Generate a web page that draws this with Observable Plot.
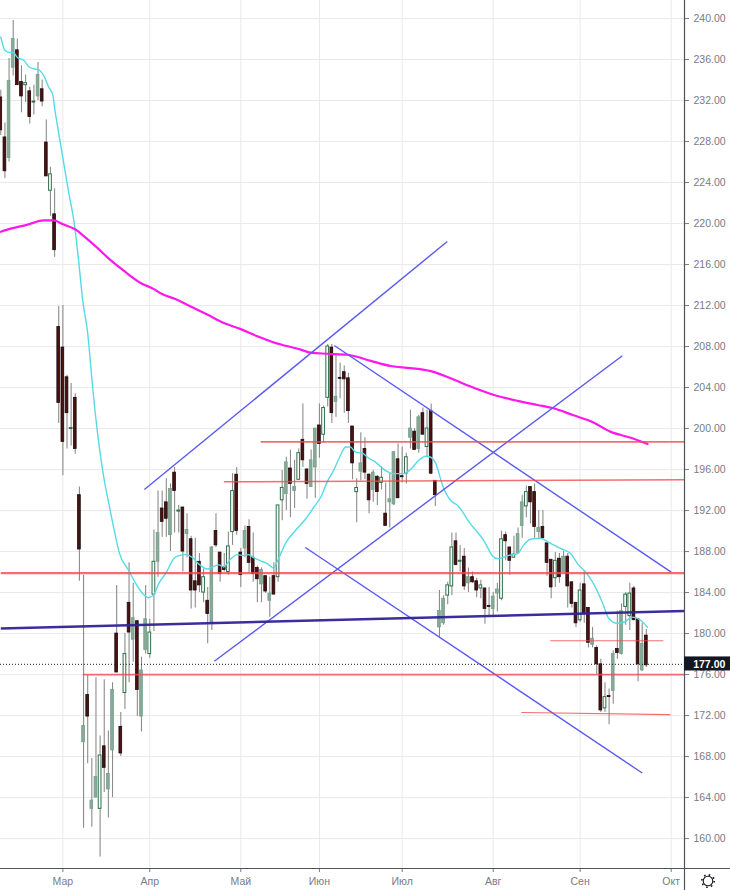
<!DOCTYPE html>
<html><head><meta charset="utf-8">
<style>html,body{margin:0;padding:0;background:#fff}#c{position:relative;width:730px;height:890px;overflow:hidden}svg{display:block}
#g{position:absolute;left:699px;top:872px}</style>
<script src="https://cdn.jsdelivr.net/npm/d3@7"></script>
<script src="https://cdn.jsdelivr.net/npm/@observablehq/plot@0.6"></script>
</head><body><div id="c"></div>
<script>
const open=[232.3,228.4,226.4,235.2,236.9,233.8,233.5,232.9,231.8,232.4,233.1,227.9,223.2,220.9,209.9,207.9,205.0,199.95,203.0,193.5,
169.4,174.0,162.9,164.0,162.9,169.0,164.8,168.6,180.0,170.9,174.2,183.0,179.4,181.2,171.9,178.4,178.0,183.8,187.0,192.2,
192.8,189.6,195.7,191.9,192.3,189.7,189.2,185.1,187.0,184.0,183.2,181.1,190.0,187.9,186.5,186.0,189.9,195.5,187.9,188.3,
190.4,187.4,186.4,184.8,185.6,183.2,185.6,185.5,193.0,193.6,196.1,193.9,195.0,198.9,196.0,194.3,196.2,200.3,199.4,203.0,
207.9,202.6,204.95,205.5,204.9,200.2,193.8,195.8,198.0,195.5,194.0,195.3,194.7,191.7,192.8,192.6,197.0,195.35,195.6,199.1,
199.7,198.0,201.5,198.2,201.7,194.9,180.6,181.0,183.7,184.6,189.0,187.0,187.5,184.9,185.5,185.1,184.4,184.4,182.7,182.4,
183.9,183.4,189.6,188.4,187.4,187.8,190.5,192.4,194.3,193.8,189.9,190.4,188.8,187.2,185.4,187.3,186.0,187.5,185.0,183.0,
181.3,184.8,182.5,178.9,178.6,177.0,172.7,173.9,174.4,178.5,178.0,182.6,181.7,184.4,181.4,176.4,179.8];
const high=[233.0,229.8,236.1,239.8,238.0,235.4,234.5,233.3,233.5,235.7,234.0,230.1,225.5,223.4,211.9,212.0,205.2,204.4,203.4,194.3,
185.7,175.9,167.8,175.7,170.0,175.5,170.5,175.2,184.7,172.3,180.0,186.9,184.9,181.3,177.7,184.7,181.4,190.1,193.9,193.9,
195.1,194.6,196.2,192.5,192.3,191.7,189.5,189.3,187.8,186.3,184.5,188.5,191.7,187.9,187.8,189.9,195.6,196.2,188.3,190.5,
191.1,189.8,186.6,186.4,185.6,185.5,186.9,192.5,195.9,197.2,197.9,196.9,198.0,202.4,196.1,197.9,200.0,202.4,202.2,208.2,
208.2,207.3,206.4,206.1,205.4,200.2,195.1,199.6,199.1,195.6,195.9,195.4,196.3,194.7,195.6,197.7,198.5,198.2,197.6,201.8,
200.0,201.3,202.0,201.8,202.4,194.9,184.2,183.7,185.0,189.8,189.8,188.6,188.3,186.4,186.0,185.4,185.2,184.4,184.5,184.0,
184.9,190.0,189.9,188.4,189.5,190.3,193.5,194.4,194.3,194.6,192.0,192.0,188.8,187.2,187.9,187.8,188.0,187.8,185.0,183.0,
184.9,186.1,182.5,180.6,178.8,177.5,175.2,174.6,178.3,182.2,182.9,184.0,184.9,184.6,181.4,181.0,180.4];
const low=[228.6,224.4,226.0,234.4,233.5,230.8,231.8,229.7,230.6,232.0,231.4,224.6,220.7,216.7,200.5,195.4,198.0,198.3,197.5,185.1,
161.0,167.3,161.1,164.0,158.2,164.5,162.0,164.0,176.2,168.0,172.6,175.2,177.2,171.9,170.4,178.0,177.6,180.2,185.5,189.4,
189.4,188.0,189.8,189.8,186.0,187.4,182.4,182.5,184.0,183.0,179.0,180.3,188.4,185.0,186.0,185.7,188.6,189.6,184.5,187.4,
185.9,185.0,183.0,183.0,183.9,181.6,183.8,185.0,191.0,192.0,191.3,192.2,195.0,196.2,193.1,194.3,193.2,197.1,198.6,202.1,
200.5,201.1,202.9,201.5,200.5,195.0,190.8,194.9,195.0,191.7,192.8,192.5,194.0,190.5,190.3,192.5,193.2,194.7,194.6,198.0,
197.9,197.6,199.4,197.2,195.5,192.4,179.6,180.8,182.8,183.7,186.6,186.0,184.2,184.0,184.9,183.5,183.4,180.9,181.6,181.6,
182.1,183.2,187.1,185.7,187.4,187.8,189.3,191.3,190.7,189.3,189.3,189.3,185.6,183.4,184.5,184.9,185.9,182.5,182.5,180.6,
181.1,181.0,178.6,178.6,176.0,172.3,172.3,171.1,173.1,177.5,177.9,180.8,180.3,181.3,175.3,176.3,176.7];
const close=[229.1,225.1,233.9,238.0,233.5,232.4,233.7,230.4,231.9,234.5,231.9,224.6,224.8,217.4,202.5,198.7,201.5,200.05,198.0,188.2,
171.0,171.9,163.7,166.0,168.1,166.9,166.3,174.5,176.2,168.3,178.0,180.1,181.5,174.5,176.4,181.4,180.1,187.0,189.8,190.9,
191.2,194.1,193.9,192.0,188.0,190.1,184.2,184.2,184.7,185.5,181.9,188.4,188.6,185.8,186.2,188.5,193.9,190.0,185.7,190.0,
186.9,185.8,185.3,186.2,184.1,183.9,183.8,192.5,194.2,196.7,194.6,194.3,197.6,196.9,194.6,196.9,200.0,198.5,202.0,208.0,
201.5,203.1,204.85,204.8,201.7,196.6,194.2,196.6,195.7,193.0,195.7,193.8,195.2,190.5,193.1,197.7,193.2,195.25,197.2,200.0,
197.9,201.1,199.4,200.0,195.6,193.5,182.2,183.4,184.7,188.4,186.7,187.1,184.6,185.5,185.0,184.2,184.7,182.4,182.6,183.6,
184.3,189.2,189.0,187.1,187.7,189.7,192.8,193.8,192.8,190.4,190.3,189.3,186.9,184.5,187.1,185.5,187.5,184.6,182.9,181.0,
184.2,181.9,179.1,179.5,177.0,172.5,173.8,173.8,178.0,178.1,182.2,183.8,183.9,181.3,177.0,179.0,176.9];
const hollowUp=[6,8,12,17,24,30,36,37,43,49,55,56,67,68,72,78,79,86,92,98,103,108,109,111,116,121,124,127,134,140,146,151,152];

const emaIdx=[0,1,2,3,4,5.6,6.8,8,9.2,10.4,11.6,12.6,13,14,15,16.2,17.9,18.8,19.8,21,22.2,23.4,24.9,26.1,27.3,28.7,31,32.6,34.3,35.7,37,38.2,39.9,41.8,43,44.7,46.4,47.8,50,51.2,52.7,53.9,55.6,57.2,58.7,59.9,61.1,62.8,64.5,65.9,67.1,68.8,71.3,73.7,75.6,77.3,79,80.4,82.1,83.3,84.5,85.7,87.4,88.6,90.6,93,94.7,97.3,99,101,102.7,103.9,105.1,106.8,108.7,110.4,113.5,116.7,118.8,120,122.5,124.9,126.3,128,130.4,132.4,135.3,137.7,139.4,141.3,143.2,145.4,146.9,149,150.5,152.7,154.6,156.3];
const emaVal=[238.2,236.9,236.7,236.7,236.2,235.9,235.3,235.1,235.0,234.4,233.3,232.5,231.3,228.8,226.4,223.5,219.6,216.4,212.5,209.3,204,199.5,195.2,192.7,190.3,187.8,186.1,184.9,183.9,183.5,183.8,184.9,185.9,187.3,187.6,187.7,187.4,186.8,186.3,186.5,186.7,186.5,187.3,187.7,187.6,187.7,187.4,187.1,186.8,186.4,187.3,188.8,190.1,191.2,192.3,193.3,194.9,195.9,197.4,198.2,198.2,197.7,197.6,197.2,196.7,195.9,195.6,195.6,196,196.9,197.3,197.2,196.6,194.4,193,192.5,190.7,189.1,187.6,187.3,187.6,187.8,188.6,189.2,189.3,188.9,188.3,187.8,186.8,186,184.9,183,181.5,181,181.1,181.6,181.3,180.6];
const smaIdx=[0,2.4,6.5,10.4,12.8,15.2,18.1,20,23.4,26.6,29.7,33.8,37,38.6,43,45.4,50,53.9,58,62,66,72.5,74.9,79,83.8,89.4,94.2,99,103.9,108.7,113.5,119,124.9,129.7,133.3,138.4,143.2,147.3,152.2,156.3];
const smaVal=[219.2,219.5,219.9,220.3,220.3,219.9,219.4,218.8,217.6,216.4,215.4,214.2,213.6,213.2,212.5,212,211.1,210.3,209.7,209,208.4,207.7,207.4,207.3,207.2,206.6,206.1,205.9,205.6,204.9,204.1,203.3,202.7,202.3,202,201.3,200.6,199.7,199.1,198.5];

const blueX1=[34.7,80.6,51.6,73.6], blueY1=[194.05,208.1,177.3,188.4], blueX2=[107.9,162,150.2,155], blueY2=[218.25,186,207.1,166.4];
const redX1=[62.8,53.9,0,19.8,132.8,125.8], redY1=[198.7,194.8,185.9,176,179.3,172.3], redX2=[165.2,165.2,165.2,165.2,160.1,161.8], redY2=[198.7,195,185.9,176,179.3,172.1], redW=[1.8,1.5,2.2,1.8,1.2,1.2];
const supX=[0,165.2], supY=[180.5,182.2];
const lastPrice=177;
const monthIdx=[15,36,58,77,97,119,140,162];
const monthNames=["Мар","Апр","Май","Июн","Июл","Авг","Сен","Окт"];
const yTicks=d3.range(160,241,4);

const xMin=-0.07,xMax=165.22,yMin=157.08,yMax=241.76;
const candles=open.map((o,i)=>({i,o,h:high[i],l:low[i],c:close[i],k:close[i]<o?"d":(hollowUp.includes(i)?"u":"f")}));
const zip=(a,b)=>a.map((v,i)=>({x:v,y:b[i]}));
const segs=(x1,y1,x2,y2,w)=>x1.map((v,i)=>({x1:v,y1:y1[i],x2:x2[i],y2:y2[i],w:w?w[i]:1}));
const AX="#787b86", LINE="#50535e";
const bodyW=0.33;
const body=(k,fill,stroke,sw)=>Plot.rect(candles.filter(d=>d.k===k),{x1:d=>d.i-bodyW,x2:d=>d.i+bodyW,y1:d=>Math.min(d.o,d.c),y2:d=>Math.max(d.o,d.c),fill,stroke,strokeWidth:sw,inset:0});

const plot=Plot.plot({
  width:730,height:890,marginLeft:0,marginRight:46,marginTop:0,marginBottom:22,
  style:{background:"#fff",fontFamily:"'Liberation Sans',Arial,sans-serif"},
  x:{domain:[xMin,xMax],label:null},
  y:{domain:[yMin,yMax],label:null},
  marks:[
    Plot.gridY(yTicks,{stroke:"#e9e9ea",strokeOpacity:1,strokeWidth:1}),
    Plot.gridX(monthIdx,{stroke:"#e9e9ea",strokeOpacity:1,strokeWidth:1}),
    Plot.ruleX(candles,{x:"i",y1:"l",y2:"h",stroke:"#8c8c8c",strokeWidth:1.1}),
    body("d","#4a1212","#1e0a0a",0.8),
    body("f","#8aa999","#74a08a",0.8),
    body("u","#ffffff","#2f6e48",1),
    Plot.line(zip(emaIdx,emaVal),{x:"x",y:"y",stroke:"#55dbe6",strokeWidth:1.4,curve:"monotone-x"}),
    Plot.line(zip(smaIdx,smaVal),{x:"x",y:"y",stroke:"#ff17ee",strokeWidth:2.2,curve:"monotone-x"}),
    Plot.link(segs(blueX1,blueY1,blueX2,blueY2),{x1:"x1",y1:"y1",x2:"x2",y2:"y2",stroke:"#5a5af2",strokeWidth:1.4}),
    Plot.link(segs(redX1,redY1,redX2,redY2,redW),{x1:"x1",y1:"y1",x2:"x2",y2:"y2",stroke:"#f4484c",strokeWidth:"w",strokeOpacity:0.8}),
    Plot.link([{x1:supX[0],y1:supY[0],x2:supX[1],y2:supY[1]}],{x1:"x1",y1:"y1",x2:"x2",y2:"y2",stroke:"#2e2396",strokeWidth:2.4,strokeOpacity:0.95}),
    Plot.ruleY([lastPrice],{x1:xMin,x2:xMax,stroke:"#222",strokeWidth:1,strokeDasharray:"1 2"}),
    Plot.axisY(yTicks,{anchor:"right",tickSize:4,tickPadding:5,tickFormat:d=>d.toFixed(2),fontSize:10.5,color:AX,stroke:AX,label:null}),
    Plot.axisX(monthIdx,{anchor:"bottom",tickSize:4,tickPadding:5,tickFormat:d=>monthNames[monthIdx.indexOf(d)],fontSize:10.5,color:AX,stroke:AX,label:null}),
    Plot.ruleX([xMax],{y1:yMin-2.2,y2:yMax,stroke:LINE,strokeWidth:1.2}),
    Plot.ruleY([yMin],{x1:xMin,x2:176.4,stroke:LINE,strokeWidth:1.2}),
    Plot.rect([lastPrice],{x1:xMax,x2:177,y1:d=>d-0.65,y2:d=>d+0.72,fill:"#131722"}),
    Plot.text([lastPrice],{x:xMax+2.1,y:d=>d,text:d=>d.toFixed(2),fill:"#fff",fontWeight:"bold",fontSize:10.5,textAnchor:"start"})
  ]
});
document.getElementById("c").appendChild(plot);
document.getElementById("c").insertAdjacentHTML("beforeend",`<svg id="g" width="18" height="18" viewBox="0 0 18 18" fill="none" stroke="#131722"><circle cx="9" cy="9" r="4.8" stroke-width="1.1"/><circle cx="9" cy="9" r="6.2" stroke-width="1.6" stroke-dasharray="1.6 3.27"/></svg>`);
</script></body></html>
